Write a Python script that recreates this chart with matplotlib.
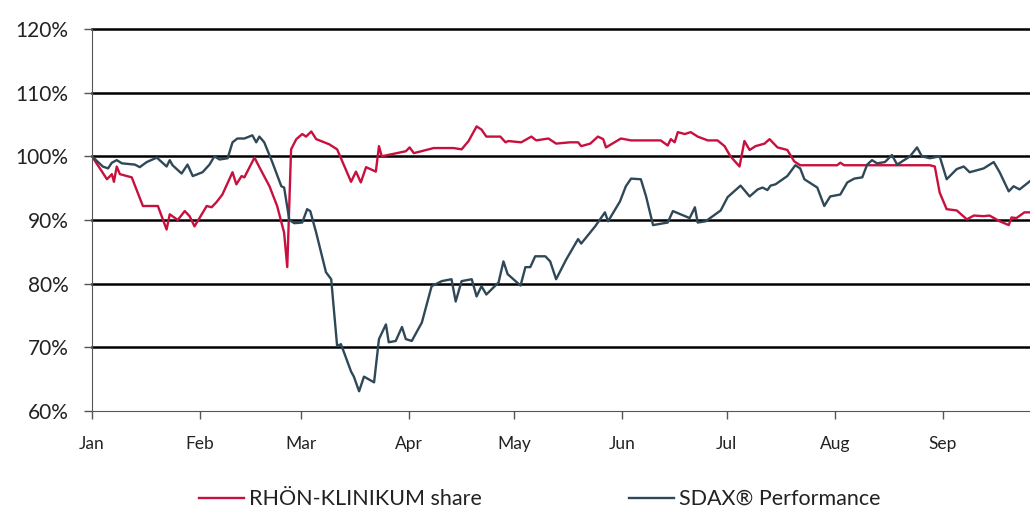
import numpy as np
import matplotlib.pyplot as plt

# === Data (day of year 2020, value in %) ===
rhoen_day = [0, 4.3, 5.7, 6.3, 7.1, 8, 11.4, 14.6, 18.9, 21.4,
             22.3, 24.6, 26.6, 28, 29.4, 32.9, 34.3, 35.7, 37.4, 40.3,
             41.4, 42.9, 43.7, 46.6, 48, 50.9, 53.1, 55.1, 56, 57.1,
             58.6, 60.3, 61.4, 62.9, 64.3, 68, 70.3, 74.3, 75.7, 77.1,
             78.6, 81.4, 82.3, 83.1, 90, 91.1, 92.3, 98, 103.7, 106,
             108, 110.3, 111.7, 113.1, 117.1, 118.6, 119.4, 123.1, 126, 127.4,
             130.9, 133.1, 137.1, 139.4, 140.3, 142.9, 145.1, 146.6, 147.4, 151.7,
             154.6, 163.1, 165.1, 166, 167.1, 168, 170, 171.7, 173.7, 176.6,
             179.4, 181.4, 183.1, 185.7, 187.1, 188.6, 190.3, 192.9, 194.3, 196.6,
             199.4, 201.4, 203.1, 213.7, 214.6, 215.7, 240.3, 241.7, 243.1, 245.1,
             248, 250.9, 252.9, 255.7, 257.4, 260.3, 262.9, 263.7, 265.1, 267.4,
             269]
rhoen_val = [100, 96.4, 97.2, 96, 98.4, 97.2, 96.7, 92.2, 92.2, 88.5,
             90.9, 90, 91.4, 90.6, 89, 92.2, 92, 92.8, 94, 97.5,
             95.6, 96.9, 96.7, 99.8, 98.3, 95.3, 92.2, 88, 82.6, 101.1,
             102.7, 103.5, 103.1, 103.9, 102.7, 101.9, 101.1, 96, 97.6, 95.9,
             98.3, 97.6, 101.6, 100, 100.8, 101.4, 100.5, 101.3, 101.3, 101.1,
             102.4, 104.7, 104.2, 103.1, 103.1, 102.2, 102.4, 102.2, 103.1, 102.5,
             102.8, 102, 102.2, 102.2, 101.6, 102, 103.1, 102.7, 101.4, 102.8,
             102.5, 102.5, 101.7, 102.7, 102.2, 103.8, 103.5, 103.8, 103.1, 102.5,
             102.5, 101.6, 100, 98.4, 102.4, 101, 101.6, 102, 102.7, 101.4,
             101, 99.2, 98.6, 98.6, 99, 98.6, 98.6, 98.4, 94.3, 91.7,
             91.5, 90.1, 90.7, 90.6, 90.7, 89.8, 89.2, 90.4, 90.3, 91.2,
             91.2]

sdax_day = [0, 3.1, 4.6, 5.7, 7.1, 8.6, 12.3, 13.7, 15.7, 18.6,
            20, 21.4, 22.3, 23.1, 25.7, 27.4, 28.9, 31.7, 33.7, 35.1,
            36.6, 38.9, 40.3, 41.7, 43.7, 46, 47.1, 48, 49.4, 51.7,
            54.3, 55.1, 56.6, 58, 60.3, 61.7, 62.6, 64.3, 67.1, 68.6,
            70.3, 71.4, 74.3, 75.1, 76.6, 78, 80.9, 82.3, 84.3, 85.1,
            87.1, 88.9, 90, 91.7, 94.6, 97.4, 100.3, 103.1, 104.3, 106,
            108.9, 110.3, 111.7, 113.1, 116.6, 118, 119.2, 122.9, 124.3, 125.7,
            127.1, 130, 131.4, 133.1, 136, 139.4, 140.3, 144.3, 147.1, 148,
            151.4, 153.1, 154.6, 157.4, 158.9, 160.9, 165.1, 166.6, 171.4, 172.9,
            173.7, 176, 180.3, 182.3, 186, 188.6, 190.9, 192.3, 193.7, 194.6,
            196, 199.4, 201.7, 203.1, 204.3, 208, 210, 211.7, 214.6, 216.6,
            218.6, 220.9, 222.3, 223.7, 225.1, 227.4, 229.4, 230.9, 234.6, 236.6,
            238, 240.3, 243.1, 245.1, 248, 250, 251.7, 255.7, 258.6, 260.3,
            262.9, 264.3, 266, 269]
sdax_val = [100, 98.4, 98.1, 99, 99.4, 98.9, 98.7, 98.3, 99.1, 99.8,
            99.1, 98.4, 99.4, 98.6, 97.3, 98.7, 96.9, 97.5, 98.7, 100,
            99.5, 99.7, 102.2, 102.8, 102.8, 103.3, 102.2, 103.1, 102.2, 99.1,
            95.3, 95.1, 90, 89.5, 89.6, 91.7, 91.4, 88, 81.8, 80.7,
            70.2, 70.5, 66.2, 65.4, 63.1, 65.4, 64.5, 71.3, 73.6, 70.8,
            71, 73.2, 71.3, 71, 73.9, 79.6, 80.4, 80.7, 77.2, 80.4,
            80.7, 78, 79.6, 78.3, 80.2, 83.5, 81.5, 79.7, 82.6, 82.6,
            84.3, 84.3, 83.5, 80.7, 83.8, 87, 86.3, 89, 91.2, 89.8,
            92.9, 95.3, 96.5, 96.4, 93.7, 89.2, 89.6, 91.4, 90.3, 92,
            89.6, 89.8, 91.5, 93.6, 95.4, 93.7, 94.8, 95.1, 94.7, 95.4,
            95.6, 96.9, 98.6, 98.1, 96.4, 95.1, 92.2, 93.7, 94, 95.9,
            96.5, 96.7, 98.7, 99.4, 98.9, 99.1, 100.2, 98.7, 100, 101.4,
            100, 99.7, 100, 96.4, 98, 98.4, 97.5, 98.1, 99.1, 97.5,
            94.5, 95.3, 94.8, 96.1]

month_days = [0, 31, 60, 91, 121, 152, 182, 213, 244]
month_labels = ['Jan', 'Feb', 'Mar', 'Apr', 'May', 'Jun', 'Jul', 'Aug', 'Sep']

plt.rcParams['font.family'] = ['Lato', 'DejaVu Sans']

fig = plt.figure(figsize=(10.30, 5.13), dpi=100)
ax = fig.add_axes([0.0893, 0.1988, 0.9107, 0.7447])

ax.plot(rhoen_day, rhoen_val, color='#C8103E', lw=1.7, label='RHÖN-KLINIKUM share')
ax.plot(sdax_day, sdax_val, color='#2F4858', lw=1.7, label='SDAX® Performance')

ax.set_ylim(60, 120)
ax.set_xlim(0, 269)
ax.set_yticks(np.arange(60, 121, 10))
ax.set_yticklabels([f'{v}%' for v in range(60, 121, 10)], fontsize=15)
ax.set_xticks(month_days)
ax.set_xticklabels(month_labels, fontsize=12.5)

for v in range(70, 121, 10):
    ax.axhline(v, color='black', lw=1.8, zorder=0, clip_on=False)

for s in ['top', 'right']:
    ax.spines[s].set_visible(False)
ax.spines['left'].set_color('#555555')
ax.spines['bottom'].set_color('#555555')
ax.tick_params(axis='both', colors='#555555', length=6, width=1)
ax.tick_params(axis='x', labelcolor='#222222', pad=12)
ax.tick_params(axis='y', labelcolor='#222222', pad=11)

fig.legend(loc='center', bbox_to_anchor=(0.524, 0.027), ncol=2, frameon=False,
           fontsize=15.5, handlelength=2.1, columnspacing=6.8, handletextpad=0.25,
           labelcolor='#222222')

fig.savefig('out.png', dpi=100)
